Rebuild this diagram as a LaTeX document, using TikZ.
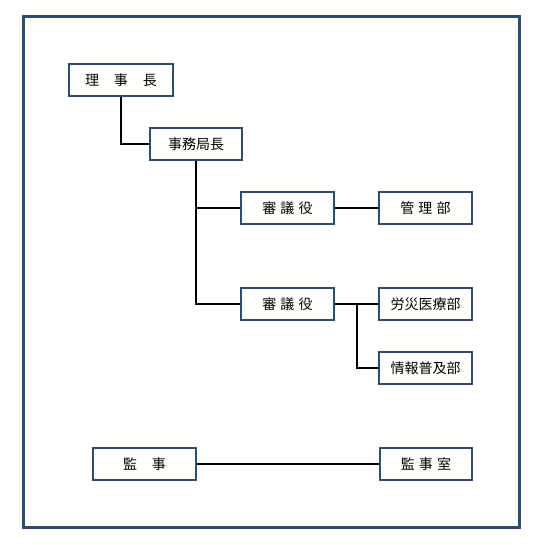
\documentclass[tikz,border=0pt]{standalone}
\usepackage{fontspec}
\setmainfont{Noto Sans CJK JP}
\definecolor{frameblue}{RGB}{44,77,110}
\newcommand{\sg}{\hspace{4.2bp}}
\newcommand{\wg}{\hspace{15bp}}
\begin{document}
\begin{tikzpicture}[x=1bp,y=-1bp,
  unit/.style={draw=frameblue,line width=2.2bp,fill=white,inner sep=0pt,font=\fontsize{14bp}{16bp}\selectfont},
  link/.style={line width=2bp,black}]
\useasboundingbox (0,0) rectangle (542,545);
\fill[white] (0,0) rectangle (542,545);
\draw[frameblue,line width=3bp] (23.5,16.5) rectangle (519,527.5);
% boxes
\node[unit,minimum width=104bp,minimum height=32bp] (rj) at (121,80) {理\wg 事\wg 長};
\node[unit,minimum width=92bp,minimum height=32bp] (jm) at (196,144) {事務局長};
\node[unit,minimum width=93bp,minimum height=32bp] (sg1) at (287.5,208) {審\sg 議\sg 役};
\node[unit,minimum width=93bp,minimum height=32bp] (kr) at (425.5,208) {管\sg 理\sg 部};
\node[unit,minimum width=93bp,minimum height=32bp] (sg2) at (287.5,304) {審\sg 議\sg 役};
\node[unit,minimum width=93bp,minimum height=32bp] (rs) at (425.5,304) {労災医療部};
\node[unit,minimum width=93bp,minimum height=32bp] (jh) at (425.5,368) {情報普及部};
\node[unit,minimum width=103bp,minimum height=32bp] (kj) at (144.5,464) {監\wg 事};
\node[unit,minimum width=92bp,minimum height=32bp] (kjs) at (426,464) {監\sg 事\sg 室};
% connectors
\coordinate (b1) at (196,208);
\coordinate (b2) at (196,304);
\coordinate (c1) at (357,304);
\coordinate (c2) at (357,368);
\draw[link] (rj.south) |- (jm.west);
\draw[link] (jm.south) -- (b2) -- (sg2.west);
\draw[link] (b1) -- (sg1.west);
\draw[link] (sg1.east) -- (kr.west);
\draw[link] (sg2.east) -- (rs.west);
\draw[link] (c1) -- (c2) -- (jh.west);
\draw[link] (kj.east) -- (kjs.west);
\end{tikzpicture}
\end{document}
